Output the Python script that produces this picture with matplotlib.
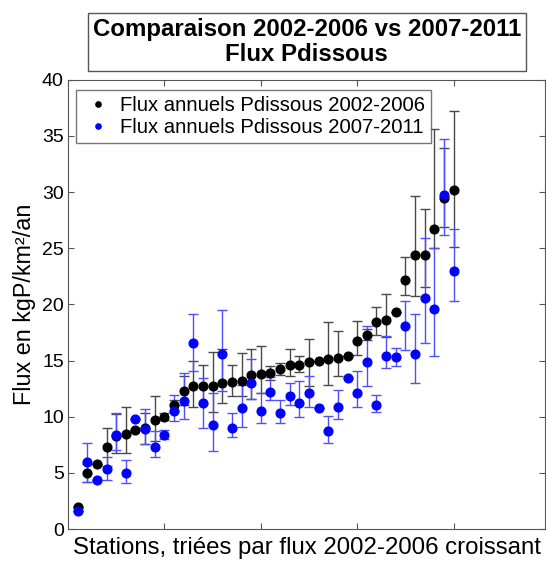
import numpy as np
import matplotlib.pyplot as plt

# stations ranked by 2002-2006 flux
stations = np.arange(1, 41)

# 2002-2006: annual flux with lower / upper bounds of the error bar
flux_0206 = [2.0, 5.0, 5.8, 7.3, 8.3, 8.5, 8.8, 9.0, 9.7, 10.0,
             11.0, 12.3, 12.7, 12.7, 12.7, 13.0, 13.1, 13.2, 13.7, 13.8,
             13.9, 14.2, 14.6, 14.6, 14.9, 15.0, 15.1, 15.25, 15.4, 16.7,
             17.3, 18.4, 18.6, 19.3, 22.2, 24.4, 24.4, 26.7, 29.5, 30.2]
low_0206 = [2.0, 4.2, 5.8, 5.6, 6.8, 6.8, 8.8, 7.6, 7.8, 9.7,
            10.5, 11.0, 10.9, 11.1, 10.4, 11.2, 11.8, 11.8, 11.6, 12.1,
            13.3, 13.7, 13.6, 14.0, 12.7, 15.0, 12.8, 13.6, 15.4, 15.5,
            16.8, 17.3, 17.1, 19.3, 20.8, 20.7, 21.5, 25.0, 26.9, 25.1]
high_0206 = [2.0, 5.8, 5.8, 9.0, 10.2, 10.9, 8.8, 10.35, 11.8, 10.3,
             11.5, 13.6, 15.0, 14.6, 15.8, 16.0, 14.6, 15.7, 16.0, 16.3,
             14.5, 14.8, 16.0, 15.4, 16.9, 15.0, 18.4, 17.6, 15.4, 18.5,
             17.8, 19.8, 20.9, 19.3, 24.25, 29.6, 28.5, 35.6, 33.9, 37.2]

# 2007-2011: annual flux with lower / upper bounds of the error bar
flux_0711 = [1.6, 6.0, 4.4, 5.3, 8.35, 5.0, 9.75, 8.9, 7.3, 8.4,
             10.55, 11.4, 16.6, 11.2, 9.3, 15.6, 9.0, 10.8, 13.0, 10.55,
             12.2, 10.3, 11.85, 11.2, 12.1, 10.8, 8.75, 10.85, 13.4, 12.15,
             14.9, 11.0, 15.4, 15.3, 18.1, 15.6, 20.6, 19.6, 29.7, 22.95]
low_0711 = [1.6, 4.2, 4.4, 4.4, 7.0, 4.1, 9.75, 7.6, 6.4, 8.0,
            9.6, 9.75, 14.1, 9.0, 6.95, 12.3, 8.15, 9.05, 11.6, 9.4,
            11.5, 9.4, 11.0, 9.95, 10.9, 10.8, 7.7, 9.75, 13.4, 10.9,
            12.7, 10.4, 14.3, 14.5, 15.9, 13.0, 16.6, 15.4, 26.2, 20.3]
high_0711 = [1.6, 7.7, 4.4, 6.4, 10.3, 6.1, 9.75, 10.7, 8.7, 8.8,
             11.9, 13.9, 19.1, 13.4, 12.1, 19.5, 10.3, 12.8, 15.1, 12.1,
             13.5, 11.5, 13.0, 13.2, 13.6, 10.8, 10.1, 12.4, 13.4, 14.1,
             18.1, 11.9, 17.2, 16.1, 20.3, 19.1, 25.9, 25.0, 34.7, 26.7]

labels = ['Flux annuels Pdissous 2002-2006', 'Flux annuels Pdissous 2007-2011']

plt.rcParams['font.family'] = ['Liberation Sans', 'DejaVu Sans']

fig = plt.figure(figsize=(5.46, 5.61), dpi=100)
ax = fig.add_axes([0.1245, 0.057, 0.874, 0.801])


def yerr(v, lo, hi):
    v, lo, hi = map(np.asarray, (v, lo, hi))
    return np.vstack([v - lo, hi - v])


eb1 = ax.errorbar(stations, flux_0206, yerr=yerr(flux_0206, low_0206, high_0206),
                  fmt='o', color='black', ms=6.3, ecolor='#4a4a4a', elinewidth=1.0,
                  capsize=3.5, capthick=1.0)
eb2 = ax.errorbar(stations, flux_0711, yerr=yerr(flux_0711, low_0711, high_0711),
                  fmt='o', color='#0000ff', ms=6.3, ecolor='#4f4fff', elinewidth=1.0,
                  capsize=3.5, capthick=1.0)

ax.set_xlim(0, 49.5)
ax.set_ylim(0, 40)
ax.set_xticks([10, 20, 30, 40])
ax.set_xticklabels([])
ax.set_yticks(np.arange(0, 41, 5))
ax.tick_params(direction='in', length=4, top=True, right=True, labelsize=14,
               color='#555555', pad=3)
for s in ax.spines.values():
    s.set_color('#555555')

ax.set_ylabel('Flux en kgP/km²/an', fontsize=16.8, labelpad=4)
ax.set_xlabel('Stations, triées par flux 2002-2006 croissant', fontsize=17.3, labelpad=3)

leg = ax.legend([eb1[0], eb2[0]], labels, loc='upper left', bbox_to_anchor=(0.017, 0.978),
                borderaxespad=0, fancybox=False, fontsize=14.6, markerscale=0.6,
                handlelength=1.6, handletextpad=0.25, borderpad=0.3, labelspacing=0.15)
leg.get_frame().set_edgecolor('#555555')
leg.get_frame().set_linewidth(1.0)

fig.text(0.562, 0.925, 'Comparaison 2002-2006 vs 2007-2011\nFlux Pdissous',
         ha='center', va='center', fontsize=17.3, fontweight='bold', linespacing=1.1,
         bbox=dict(boxstyle='square,pad=0.2', fc='white', ec='#555555', lw=1.0))

fig.savefig('out.png', dpi=100)
